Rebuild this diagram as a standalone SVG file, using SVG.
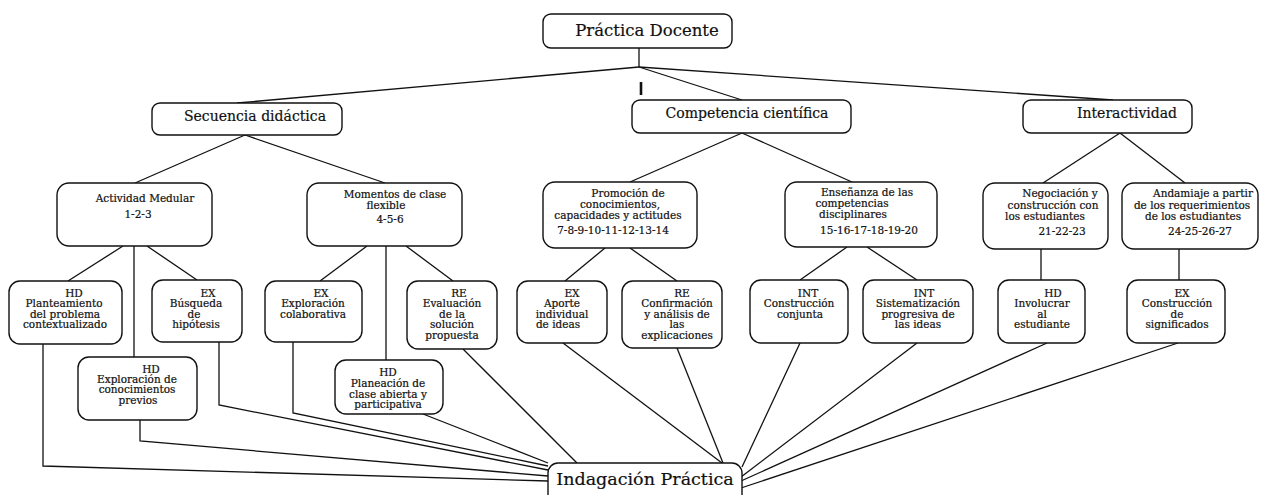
<svg xmlns="http://www.w3.org/2000/svg" width="1263" height="495" viewBox="0 0 1263 495">
<style>
rect.n{fill:#fff;stroke:#111;stroke-width:1.4}
text{font-family:"DejaVu Serif","Liberation Serif",serif;fill:#111;text-anchor:middle;stroke:#111;stroke-width:0.2}
.s{font-size:10.5px}
.m{font-size:14px}
.l{font-size:16.5px}
.xl{font-size:17.5px}
#connectors line,#connectors polyline{stroke:#111;stroke-width:1.3;fill:none}
</style>
<rect width="1263" height="495" fill="#fff"/>
<g id="connectors">
<line x1="639" y1="48" x2="639" y2="67"/>
<line x1="639" y1="67" x2="237" y2="103"/>
<line x1="639" y1="67" x2="742" y2="100"/>
<line x1="639" y1="67" x2="1113" y2="100"/>
<line x1="641" y1="82" x2="641" y2="95" style="stroke-width:2.6"/>
<line x1="245" y1="135" x2="135" y2="183"/>
<line x1="245" y1="135" x2="385" y2="183"/>
<line x1="742" y1="133" x2="630" y2="182"/>
<line x1="742" y1="133" x2="852" y2="182"/>
<line x1="1120" y1="133" x2="1043" y2="183"/>
<line x1="1120" y1="133" x2="1185" y2="183"/>
<line x1="123" y1="246" x2="68" y2="281"/>
<line x1="134" y1="246" x2="134" y2="357"/>
<line x1="147" y1="246" x2="197" y2="280"/>
<line x1="367" y1="246" x2="320" y2="281"/>
<line x1="386" y1="246" x2="386" y2="360"/>
<line x1="406" y1="246" x2="453" y2="281"/>
<line x1="605" y1="248" x2="565" y2="281"/>
<line x1="630" y1="248" x2="677" y2="281"/>
<line x1="847" y1="247" x2="800" y2="280"/>
<line x1="867" y1="247" x2="917" y2="280"/>
<line x1="1041" y1="249" x2="1041" y2="280"/>
<line x1="1179" y1="249" x2="1179" y2="280"/>
<polyline points="43,344 43,466 548,481"/>
<polyline points="140,420 140,441 548,476"/>
<polyline points="219,342 219,405 548,470"/>
<polyline points="293,342 293,413 548,466"/>
<line x1="423" y1="414" x2="548" y2="463"/>
<line x1="463" y1="349" x2="577" y2="463"/>
<line x1="563" y1="343" x2="722" y2="463"/>
<line x1="677" y1="348" x2="723" y2="463"/>
<line x1="800" y1="343" x2="742" y2="467"/>
<line x1="917" y1="343" x2="741" y2="477"/>
<line x1="1047" y1="343" x2="741" y2="481"/>
<line x1="1178" y1="343" x2="741" y2="488"/>
</g>
<g id="practica-docente"><rect class="n" x="543" y="14" width="189" height="34" rx="8"/><text class="l" x="647" y="36">Práctica Docente</text></g>
<g id="secuencia"><rect class="n" x="152" y="103" width="190" height="32" rx="8"/><text class="m" x="255" y="121">Secuencia didáctica</text></g>
<g id="competencia"><rect class="n" x="632" y="100" width="219" height="33" rx="8"/><text class="m" x="747" y="118">Competencia científica</text></g>
<g id="interactividad"><rect class="n" x="1023" y="100" width="169" height="33" rx="8"/><text class="m" x="1127" y="118">Interactividad</text></g>
<g id="actividad-medular"><rect class="n" x="57" y="183" width="155" height="63" rx="12"/><text class="s" x="145" y="202">Actividad Medular</text><text class="s" x="138" y="218">1-2-3</text></g>
<g id="momentos"><rect class="n" x="307" y="183" width="155" height="63" rx="12"/><text class="s" x="395" y="198">Momentos de clase</text><text class="s" x="386" y="209">flexible</text><text class="s" x="390" y="223">4-5-6</text></g>
<g id="promocion"><rect class="n" x="543" y="182" width="154" height="66" rx="12"/><text class="s" x="628" y="197">Promoción de</text><text class="s" x="620" y="208">conocimientos,</text><text class="s" x="618" y="219">capacidades y actitudes</text><text class="s" x="613" y="234">7-8-9-10-11-12-13-14</text></g>
<g id="ensenanza"><rect class="n" x="785" y="182" width="152" height="65" rx="12"/><text class="s" x="867" y="196">Enseñanza de las</text><text class="s" x="852" y="207">competencias</text><text class="s" x="853" y="218">disciplinares</text><text class="s" x="869" y="234">15-16-17-18-19-20</text></g>
<g id="negociacion"><rect class="n" x="983" y="183" width="125" height="66" rx="12"/><text class="s" x="1060" y="197">Negociación y</text><text class="s" x="1053" y="209">construcción con</text><text class="s" x="1045" y="220">los estudiantes</text><text class="s" x="1062" y="235">21-22-23</text></g>
<g id="andamiaje"><rect class="n" x="1122" y="183" width="136" height="66" rx="12"/><text class="s" x="1203" y="197">Andamiaje a partir</text><text class="s" x="1192" y="209">de los requerimientos</text><text class="s" x="1193" y="220">de los estudiantes</text><text class="s" x="1200" y="235">24-25-26-27</text></g>
<g id="hd-planteamiento"><rect class="n" x="9" y="281" width="113" height="63" rx="11"/><text class="s" x="74" y="297">HD</text><text class="s" x="64" y="307">Planteamiento</text><text class="s" x="65" y="318">del problema</text><text class="s" x="65" y="328">contextualizado</text></g>
<g id="ex-busqueda"><rect class="n" x="152" y="280" width="90" height="62" rx="11"/><text class="s" x="208" y="297">EX</text><text class="s" x="196" y="307">Búsqueda</text><text class="s" x="194" y="318">de</text><text class="s" x="196" y="328">hipótesis</text></g>
<g id="hd-exploracion"><rect class="n" x="78" y="357" width="119" height="63" rx="11"/><text class="s" x="151" y="373">HD</text><text class="s" x="137" y="383">Exploración de</text><text class="s" x="137" y="393">conocimientos</text><text class="s" x="138" y="404">previos</text></g>
<g id="ex-exploracion-colaborativa"><rect class="n" x="265" y="281" width="97" height="61" rx="11"/><text class="s" x="321" y="297">EX</text><text class="s" x="313" y="307">Exploración</text><text class="s" x="313" y="318">colaborativa</text></g>
<g id="hd-planeacion"><rect class="n" x="335" y="360" width="108" height="54" rx="11"/><text class="s" x="388" y="376">HD</text><text class="s" x="388" y="387">Planeación de</text><text class="s" x="388" y="398">clase abierta y</text><text class="s" x="388" y="408">participativa</text></g>
<g id="re-evaluacion"><rect class="n" x="407" y="281" width="90" height="68" rx="11"/><text class="s" x="459" y="297">RE</text><text class="s" x="452" y="307">Evaluación</text><text class="s" x="452" y="318">de la</text><text class="s" x="452" y="328">solución</text><text class="s" x="452" y="339">propuesta</text></g>
<g id="ex-aporte"><rect class="n" x="517" y="281" width="90" height="62" rx="11"/><text class="s" x="572" y="297">EX</text><text class="s" x="562" y="307">Aporte</text><text class="s" x="562" y="318">individual</text><text class="s" x="558" y="328">de ideas</text></g>
<g id="re-confirmacion"><rect class="n" x="622" y="281" width="100" height="67" rx="11"/><text class="s" x="682" y="297">RE</text><text class="s" x="677" y="307">Confirmación</text><text class="s" x="677" y="318">y análisis de</text><text class="s" x="677" y="328">las</text><text class="s" x="677" y="339">explicaciones</text></g>
<g id="int-construccion"><rect class="n" x="750" y="280" width="98" height="63" rx="11"/><text class="s" x="808" y="297">INT</text><text class="s" x="799" y="307">Construcción</text><text class="s" x="800" y="318">conjunta</text></g>
<g id="int-sistematizacion"><rect class="n" x="863" y="280" width="110" height="63" rx="11"/><text class="s" x="924" y="297">INT</text><text class="s" x="918" y="307">Sistematización</text><text class="s" x="918" y="318">progresiva de</text><text class="s" x="918" y="328">las ideas</text></g>
<g id="hd-involucrar"><rect class="n" x="998" y="280" width="87" height="63" rx="11"/><text class="s" x="1053" y="297">HD</text><text class="s" x="1042" y="307">Involucrar</text><text class="s" x="1042" y="318">al</text><text class="s" x="1042" y="328">estudiante</text></g>
<g id="ex-construccion-significados"><rect class="n" x="1127" y="280" width="98" height="63" rx="11"/><text class="s" x="1182" y="297">EX</text><text class="s" x="1177" y="307">Construcción</text><text class="s" x="1177" y="318">de</text><text class="s" x="1177" y="328">significados</text></g>
<g id="indagacion-practica"><rect class="n" x="548" y="463" width="194" height="45" rx="10"/><text class="xl" x="645" y="485">Indagación Práctica</text></g>
</svg>
